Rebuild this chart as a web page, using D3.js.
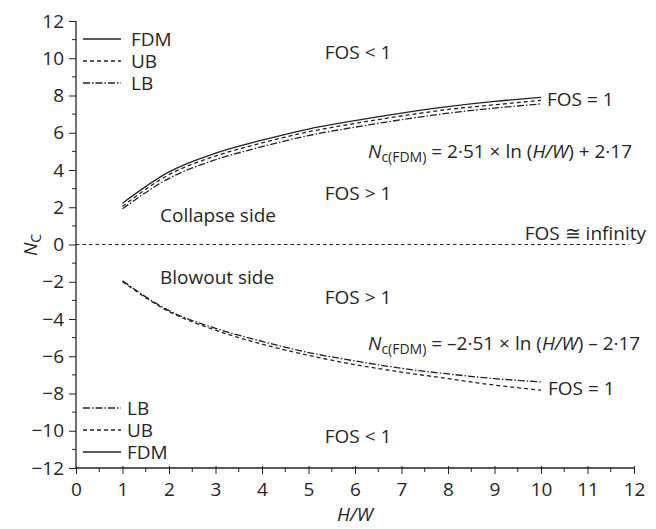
<!DOCTYPE html>
<html>
<head>
<meta charset="utf-8">
<script src="https://cdn.jsdelivr.net/npm/d3@7"></script>
<style>
  body { margin: 0; background: #fff; }
  text { font-family: "Open Sans", sans-serif; fill: #262626; }
</style>
</head>
<body>
<div id="chart"></div>
<script>
// values
var hw = [1, 2, 3, 4, 5, 6, 7, 8, 9, 10];
var fdmUp = [2.22, 3.9, 4.9, 5.6, 6.2, 6.65, 7.05, 7.4, 7.68, 7.9];
var ubUp = [2.05, 3.75, 4.75, 5.45, 6.05, 6.5, 6.9, 7.25, 7.5, 7.74];
var lbUp = [1.92, 3.55, 4.55, 5.25, 5.85, 6.3, 6.7, 7.05, 7.32, 7.55];
var ubDown = [-2.0, -3.6, -4.6, -5.35, -5.95, -6.45, -6.85, -7.2, -7.55, -7.82];
var lbDown = [-1.95, -3.55, -4.5, -5.2, -5.8, -6.25, -6.65, -6.95, -7.2, -7.38];
var xTicks = d3.range(0, 13, 1);
var yTicks = d3.range(-12, 13, 2);
var zeroLineEnd = 11.9;

var width = 656, height = 529;
var fs = 19;
var x = d3.scaleLinear().domain([0, 12]).range([76, 634]);
var y = d3.scaleLinear().domain([-12, 12]).range([468, 21]);

var svg = d3.select("#chart").append("svg")
	.attr("width", width)
	.attr("height", height);

var ink = "#222";
var dashed = "4,3";
var dashdot = "7,2,1.5,2";

// zero line
svg.append("line")
	.attr("x1", x(0)).attr("x2", x(zeroLineEnd))
	.attr("y1", y(0)).attr("y2", y(0))
	.attr("stroke", ink).attr("stroke-width", 1)
	.attr("stroke-dasharray", "3.5,3");

// axes
var xAxis = svg.append("g").attr("transform", "translate(0," + y(-12) + ")")
	.call(d3.axisBottom(x).tickValues(xTicks).tickSize(6).tickPadding(9)
		.tickFormat(d3.format("d")));
xAxis.selectAll(".tick line").attr("y1", -2);
xAxis.selectAll("line.minor").data(d3.range(0.5, 12, 1)).enter().append("line")
	.attr("class", "minor")
	.attr("x1", function(d) { return x(d); }).attr("x2", function(d) { return x(d); })
	.attr("y1", 0).attr("y2", 4).attr("stroke", ink);

var yAxis = svg.append("g").attr("transform", "translate(" + x(0) + ",0)")
	.call(d3.axisLeft(y).tickValues(yTicks).tickSize(7).tickPadding(5)
		.tickFormat(function(d) { return d < 0 ? "\u2212" + Math.abs(d) : d; }));
yAxis.selectAll("line.minor").data(d3.range(-11, 12, 2)).enter().append("line")
	.attr("class", "minor")
	.attr("x1", -4).attr("x2", 0)
	.attr("y1", function(d) { return y(d); }).attr("y2", function(d) { return y(d); })
	.attr("stroke", ink);

[xAxis, yAxis].forEach(function(a) {
	a.select(".domain").attr("stroke", ink).attr("stroke-width", 1.3);
	a.selectAll(".tick line").attr("stroke", ink);
	a.selectAll("text").attr("font-size", fs).attr("fill", "#2a2a2a")
		.attr("font-family", "'Open Sans', sans-serif");
});
yAxis.select(".domain").attr("d", "M0," + y(-12) + "V" + y(12));
xAxis.select(".domain").attr("d", "M" + x(0) + ",0H" + x(12));

// curves
var line = d3.line().curve(d3.curveMonotoneX)
	.x(function(d) { return x(d[0]); })
	.y(function(d) { return y(d[1]); });

var series = [
	{ vals: fdmUp, dash: null },
	{ vals: ubUp, dash: dashed },
	{ vals: lbUp, dash: dashdot },
	{ vals: ubDown, dash: dashed },
	{ vals: lbDown, dash: dashdot }
];
series.forEach(function(s) {
	svg.append("path")
		.datum(d3.zip(hw, s.vals))
		.attr("d", line)
		.attr("fill", "none")
		.attr("stroke", ink)
		.attr("stroke-width", 1.3)
		.attr("stroke-dasharray", s.dash);
});

// legends
function legend(items, x0, gap, ys) {
	items.forEach(function(it, i) {
		svg.append("line")
			.attr("x1", x0).attr("x2", x0 + 38)
			.attr("y1", ys[i]).attr("y2", ys[i])
			.attr("stroke", ink).attr("stroke-width", 1.3)
			.attr("stroke-dasharray", it.dash);
		svg.append("text")
			.attr("x", x0 + 38 + gap).attr("y", ys[i] + 6.5)
			.attr("font-size", fs)
			.text(it.name);
	});
}
legend([{ name: "FDM", dash: null }, { name: "UB", dash: dashed }, { name: "LB", dash: dashdot }], 83, 10, [39, 61, 83]);
legend([{ name: "LB", dash: dashdot }, { name: "UB", dash: dashed }, { name: "FDM", dash: null }], 83, 6, [408, 430, 452]);

// annotations
function note(tx, ty, str, anchor) {
	return svg.append("text").attr("x", tx).attr("y", ty)
		.attr("font-size", fs).attr("text-anchor", anchor || "start").text(str);
}
note(358, 59, "FOS < 1", "middle");
note(547, 106, "FOS = 1");
note(358, 200, "FOS > 1", "middle");
note(160, 222, "Collapse side");
note(646, 240, "FOS \u2245 infinity", "end");
note(160, 284, "Blowout side");
note(358, 304, "FOS > 1", "middle");
note(548, 395, "FOS = 1");
note(358, 443, "FOS < 1", "middle");

function eq(ty, sign, tail) {
	var t = svg.append("text").attr("x", 368).attr("y", ty).attr("font-size", fs);
	t.append("tspan").attr("font-style", "italic").text("N");
	t.append("tspan").attr("font-size", 14).attr("dy", 4).text("c(FDM)");
	t.append("tspan").attr("dy", -4).text(" = " + sign + "2\u00b751 \u00d7 ln (");
	t.append("tspan").attr("font-style", "italic").text("H/W");
	t.append("tspan").text(") " + tail + " 2\u00b717");
}
eq(158, "", "+");
eq(350, "\u2013", "\u2013");

// axis titles
svg.append("text")
	.attr("x", 355).attr("y", 521)
	.attr("text-anchor", "middle")
	.attr("font-size", fs).attr("font-style", "italic")
	.text("H/W");

var yl = svg.append("text")
	.attr("transform", "translate(37,245) rotate(-90)")
	.attr("text-anchor", "middle")
	.attr("font-size", fs);
yl.append("tspan").attr("font-style", "italic").text("N");
yl.append("tspan").attr("font-size", 14).attr("dy", 4).text("C");
</script>
</body>
</html>
